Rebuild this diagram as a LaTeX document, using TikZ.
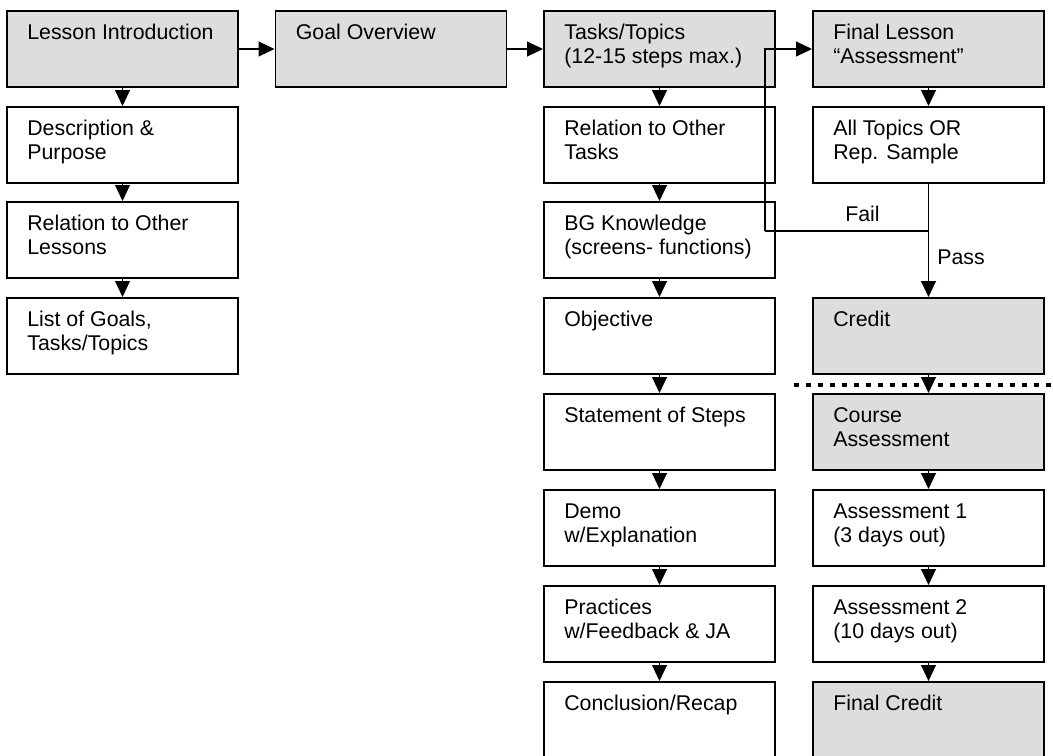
\documentclass[tikz,border=0pt]{standalone}
\usepackage{fontspec}
\setmainfont{Liberation Sans}
\usetikzlibrary{arrows.meta}
\definecolor{boxgray}{HTML}{DDDDDD}
\tikzset{
  box/.style={draw=black, line width=1.4pt, fill=white, minimum width=173.25pt, minimum height=57pt, inner sep=0pt},
  gbox/.style={box, fill=boxgray},
  txt/.style={anchor=north west, inner sep=0pt, align=left, font=\fontsize{16pt}{18pt}\selectfont},
  lbl/.style={inner sep=0pt, font=\fontsize{16pt}{18pt}\selectfont},
  conn/.style={line width=1.4pt, -{Triangle[length=12pt,width=11pt]}},
  line/.style={line width=1.4pt},
  dots/.style={line width=3.5pt, dash pattern=on 3.5pt off 5.5pt}
}
\newcommand\btext[2]{\node[txt] (t#1) at ([shift={(21,12.2)}]#1.north west) {\strut #2};}
\begin{document}
\begin{tikzpicture}[x=0.75pt,y=-0.75pt]
\useasboundingbox (0,0) rectangle (1053,756);
% column 1
\node[gbox] (li)  at (122.5,49)  {};
\node[box]  (dp)  at (122.5,145) {};
\node[box]  (rol) at (122.5,240) {};
\node[box]  (lg)  at (122.5,336) {};
% column 2
\node[gbox] (go)  at (391,49) {};
% column 3
\node[gbox] (tt)   at (659.5,49)  {};
\node[box]  (rot)  at (659.5,145) {};
\node[box]  (bg)   at (659.5,240) {};
\node[box]  (obj)  at (659.5,336) {};
\node[box]  (sos)  at (659.5,432) {};
\node[box]  (demo) at (659.5,528) {};
\node[box]  (prac) at (659.5,624) {};
\node[box]  (conc) at (659.5,720) {};
% column 4
\node[gbox] (fl) at (928.5,49)  {};
\node[box]  (at) at (928.5,145) {};
\node[gbox] (cr) at (928.5,336) {};
\node[gbox] (ca) at (928.5,432) {};
\node[box]  (aa) at (928.5,528) {};
\node[box]  (ab) at (928.5,624) {};
\node[gbox] (fc) at (928.5,720) {};
% texts
\btext{li}{Lesson Introduction}
\btext{dp}{Description \&\\Purpose}
\btext{rol}{Relation to Other\\Lessons}
\btext{lg}{List of Goals,\\Tasks/Topics}
\btext{go}{Goal Overview}
\btext{tt}{Tasks/Topics\\(12-15 steps max.)}
\btext{rot}{Relation to Other\\Tasks}
\btext{bg}{BG Knowledge\\(screens- functions)}
\btext{obj}{Objective}
\btext{sos}{Statement of Steps}
\btext{demo}{Demo\\w/Explanation}
\btext{prac}{Practices\\w/Feedback \& JA}
\btext{conc}{Conclusion/Recap}
\btext{fl}{Final Lesson\\“Assessment”}
\btext{at}{All Topics OR\\Rep. Sample}
\btext{cr}{Credit}
\btext{ca}{Course\\Assessment}
\btext{aa}{Assessment 1\\(3 days out)}
\btext{ab}{Assessment 2\\(10 days out)}
\btext{fc}{Final Credit}
% horizontal connectors
\draw[conn] (li.east) -- (go.west);
\draw[conn] (go.east) -- (tt.west);
% vertical connectors
\draw[conn] (li.south) -- (dp.north);
\draw[conn] (dp.south) -- (rol.north);
\draw[conn] (rol.south) -- (lg.north);
\draw[conn] (tt.south) -- (rot.north);
\draw[conn] (rot.south) -- (bg.north);
\draw[conn] (bg.south) -- (obj.north);
\draw[conn] (obj.south) -- (sos.north);
\draw[conn] (sos.south) -- (demo.north);
\draw[conn] (demo.south) -- (prac.north);
\draw[conn] (prac.south) -- (conc.north);
\draw[conn] (fl.south) -- (at.north);
\draw[conn] (at.south) -- (cr.north);
\draw[conn] (cr.south) -- (ca.north);
\draw[conn] (ca.south) -- (aa.north);
\draw[conn] (aa.south) -- (ab.north);
\draw[conn] (ab.south) -- (fc.north);
% fail loop
\coordinate (fork) at (928.5,231);
\coordinate (loopx) at (765,231);
\draw[line] (fork) -- (loopx);
\draw[conn] (loopx) |- (fl.west);
\node[lbl, anchor=base west] (fail) at (845,222) {Fail};
\node[lbl, anchor=base west] (pass) at (937,264) {Pass};
% dotted separator
\coordinate (dl) at (794,385);
\coordinate (dr) at (1056,385);
\draw[dots] (dl) -- (dr);
\end{tikzpicture}
\end{document}
